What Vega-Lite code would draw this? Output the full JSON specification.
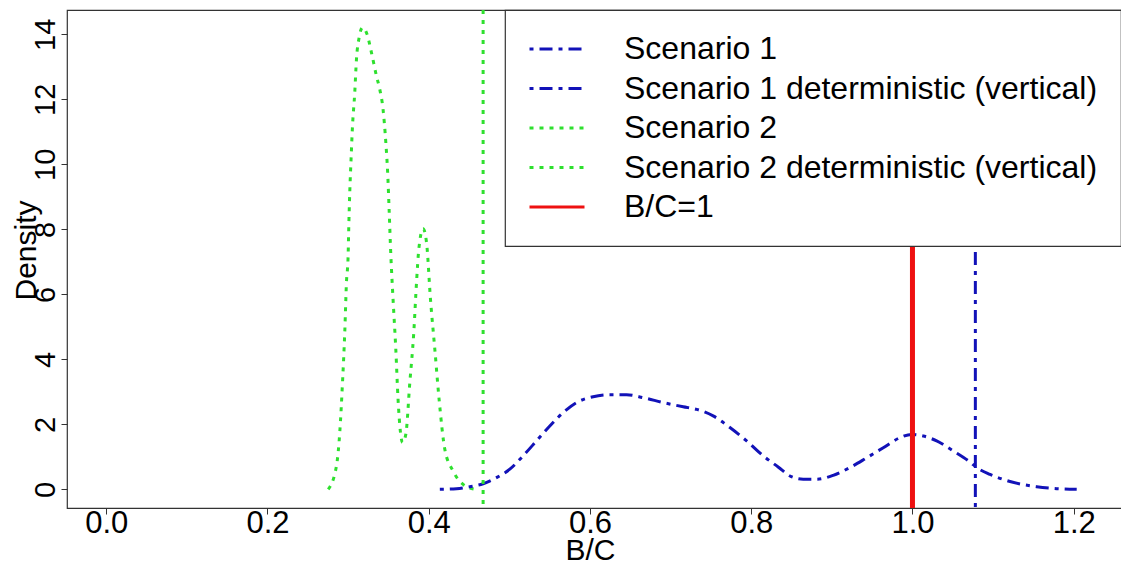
{
  "$schema": "https://vega.github.io/schema/vega-lite/v6.json",
  "width": 1058,
  "height": 498,
  "autosize": {"type": "none"},
  "padding": {"left": 67, "top": 10, "right": 0, "bottom": 55},
  "background": "white",
  "config": {
    "view": {"stroke": "#333333", "strokeWidth": 1.2},
    "font": "Liberation Sans",
    "axis": {"grid": false, "domain": false, "tickColor": "#333333", "tickWidth": 1, "labelColor": "black", "titleColor": "black", "labelFont": "Liberation Sans", "titleFont": "Liberation Sans", "titleFontWeight": "normal"},
    "legend": {
      "orient": "none", "legendX": 438, "legendY": 0, "title": null,
      "symbolType": "stroke", "symbolSize": 3025, "symbolStrokeWidth": 3,
      "labelFont": "Liberation Sans", "labelFontSize": 32, "labelColor": "black", "labelOffset": 38, "labelLimit": 0,
      "clipHeight": 32, "rowPadding": 7.5, "padding": 23, "strokeColor": "#333333", "strokeWidth": 1.2, "fillColor": "white"
    }
  },
  "datasets": {
    "curves": [
      {"bc": 0.2754, "density": 0.0, "series": "Scenario 2"},
      {"bc": 0.2856, "density": 0.72, "series": "Scenario 2"},
      {"bc": 0.2897, "density": 1.75, "series": "Scenario 2"},
      {"bc": 0.2931, "density": 3.29, "series": "Scenario 2"},
      {"bc": 0.2959, "density": 4.83, "series": "Scenario 2"},
      {"bc": 0.2980, "density": 6.37, "series": "Scenario 2"},
      {"bc": 0.3000, "density": 7.14, "series": "Scenario 2"},
      {"bc": 0.3009, "density": 8.10, "series": "Scenario 2"},
      {"bc": 0.3021, "density": 9.14, "series": "Scenario 2"},
      {"bc": 0.3037, "density": 10.15, "series": "Scenario 2"},
      {"bc": 0.3055, "density": 11.18, "series": "Scenario 2"},
      {"bc": 0.3083, "density": 12.21, "series": "Scenario 2"},
      {"bc": 0.3104, "density": 13.23, "series": "Scenario 2"},
      {"bc": 0.3137, "density": 13.90, "series": "Scenario 2"},
      {"bc": 0.3179, "density": 14.21, "series": "Scenario 2"},
      {"bc": 0.3236, "density": 14.0, "series": "Scenario 2"},
      {"bc": 0.3290, "density": 13.44, "series": "Scenario 2"},
      {"bc": 0.3352, "density": 12.72, "series": "Scenario 2"},
      {"bc": 0.3393, "density": 12.31, "series": "Scenario 2"},
      {"bc": 0.3434, "density": 11.69, "series": "Scenario 2"},
      {"bc": 0.3468, "density": 10.68, "series": "Scenario 2"},
      {"bc": 0.3493, "density": 9.64, "series": "Scenario 2"},
      {"bc": 0.3509, "density": 8.62, "series": "Scenario 2"},
      {"bc": 0.3530, "density": 7.23, "series": "Scenario 2"},
      {"bc": 0.3558, "density": 5.85, "series": "Scenario 2"},
      {"bc": 0.3592, "density": 4.31, "series": "Scenario 2"},
      {"bc": 0.3620, "density": 2.77, "series": "Scenario 2"},
      {"bc": 0.3650, "density": 1.75, "series": "Scenario 2"},
      {"bc": 0.3675, "density": 1.44, "series": "Scenario 2"},
      {"bc": 0.3716, "density": 1.69, "series": "Scenario 2"},
      {"bc": 0.3766, "density": 3.29, "series": "Scenario 2"},
      {"bc": 0.3815, "density": 4.83, "series": "Scenario 2"},
      {"bc": 0.3849, "density": 6.37, "series": "Scenario 2"},
      {"bc": 0.3877, "density": 7.38, "series": "Scenario 2"},
      {"bc": 0.3931, "density": 8.02, "series": "Scenario 2"},
      {"bc": 0.3973, "density": 7.60, "series": "Scenario 2"},
      {"bc": 0.4022, "density": 5.85, "series": "Scenario 2"},
      {"bc": 0.4076, "density": 4.31, "series": "Scenario 2"},
      {"bc": 0.4129, "density": 2.77, "series": "Scenario 2"},
      {"bc": 0.4200, "density": 1.23, "series": "Scenario 2"},
      {"bc": 0.4303, "density": 0.56, "series": "Scenario 2"},
      {"bc": 0.4427, "density": 0.15, "series": "Scenario 2"},
      {"bc": 0.4572, "density": 0.0, "series": "Scenario 2"},
      {"bc": 0.4138, "density": 0.0, "series": "Scenario 1"},
      {"bc": 0.4345, "density": 0.02, "series": "Scenario 1"},
      {"bc": 0.4510, "density": 0.08, "series": "Scenario 1"},
      {"bc": 0.4675, "density": 0.17, "series": "Scenario 1"},
      {"bc": 0.4841, "density": 0.36, "series": "Scenario 1"},
      {"bc": 0.5006, "density": 0.62, "series": "Scenario 1"},
      {"bc": 0.5171, "density": 1.03, "series": "Scenario 1"},
      {"bc": 0.5337, "density": 1.49, "series": "Scenario 1"},
      {"bc": 0.5502, "density": 1.95, "series": "Scenario 1"},
      {"bc": 0.5668, "density": 2.36, "series": "Scenario 1"},
      {"bc": 0.5834, "density": 2.67, "series": "Scenario 1"},
      {"bc": 0.6040, "density": 2.85, "series": "Scenario 1"},
      {"bc": 0.6247, "density": 2.91, "series": "Scenario 1"},
      {"bc": 0.6454, "density": 2.91, "series": "Scenario 1"},
      {"bc": 0.6660, "density": 2.82, "series": "Scenario 1"},
      {"bc": 0.6908, "density": 2.67, "series": "Scenario 1"},
      {"bc": 0.7156, "density": 2.54, "series": "Scenario 1"},
      {"bc": 0.7323, "density": 2.46, "series": "Scenario 1"},
      {"bc": 0.7528, "density": 2.26, "series": "Scenario 1"},
      {"bc": 0.7736, "density": 1.90, "series": "Scenario 1"},
      {"bc": 0.7943, "density": 1.49, "series": "Scenario 1"},
      {"bc": 0.8149, "density": 1.03, "series": "Scenario 1"},
      {"bc": 0.8338, "density": 0.68, "series": "Scenario 1"},
      {"bc": 0.8480, "density": 0.41, "series": "Scenario 1"},
      {"bc": 0.8645, "density": 0.31, "series": "Scenario 1"},
      {"bc": 0.8811, "density": 0.31, "series": "Scenario 1"},
      {"bc": 0.9017, "density": 0.43, "series": "Scenario 1"},
      {"bc": 0.9225, "density": 0.67, "series": "Scenario 1"},
      {"bc": 0.9432, "density": 0.97, "series": "Scenario 1"},
      {"bc": 0.9638, "density": 1.28, "series": "Scenario 1"},
      {"bc": 0.9845, "density": 1.59, "series": "Scenario 1"},
      {"bc": 0.9990, "density": 1.69, "series": "Scenario 1"},
      {"bc": 1.0134, "density": 1.64, "series": "Scenario 1"},
      {"bc": 1.0300, "density": 1.49, "series": "Scenario 1"},
      {"bc": 1.0506, "density": 1.18, "series": "Scenario 1"},
      {"bc": 1.0713, "density": 0.84, "series": "Scenario 1"},
      {"bc": 1.0797, "density": 0.67, "series": "Scenario 1"},
      {"bc": 1.0962, "density": 0.46, "series": "Scenario 1"},
      {"bc": 1.1210, "density": 0.24, "series": "Scenario 1"},
      {"bc": 1.1541, "density": 0.08, "series": "Scenario 1"},
      {"bc": 1.1789, "density": 0.02, "series": "Scenario 1"},
      {"bc": 1.2037, "density": 0.0, "series": "Scenario 1"}
    ],
    "vlines": [
      {"bc": 1.078, "series": "Scenario 1 deterministic (vertical)"},
      {"bc": 0.4675, "series": "Scenario 2 deterministic (vertical)"},
      {"bc": 1.0, "series": "B/C=1"}
    ]
  },
  "encoding": {
    "x": {
      "field": "bc", "type": "quantitative",
      "scale": {"domain": [-0.0486, 1.2636], "nice": false, "zero": false},
      "axis": {
        "values": [0, 0.2, 0.4, 0.6, 0.8, 1.0, 1.2], "format": ".1f",
        "labelFontSize": 31, "labelBaseline": "alphabetic", "labelPadding": 18, "tickSize": 6,
        "labelFlush": false, "labelOverlap": false,
        "title": "B/C", "titleFontSize": 30, "titleX": 523, "titleY": 51, "titleAlign": "center", "titleBaseline": "alphabetic"
      }
    },
    "color": {
      "field": "series", "type": "nominal",
      "scale": {
        "domain": ["Scenario 1", "Scenario 1 deterministic (vertical)", "Scenario 2", "Scenario 2 deterministic (vertical)", "B/C=1"],
        "range": ["#1212b8", "#1212b8", "#2ee02e", "#2ee02e", "#ee1111"]
      },
      "legend": {"title": null}
    },
    "strokeDash": {
      "field": "series", "type": "nominal",
      "scale": {
        "domain": ["Scenario 1", "Scenario 1 deterministic (vertical)", "Scenario 2", "Scenario 2 deterministic (vertical)", "B/C=1"],
        "range": [[4, 6, 13, 6], [4, 6, 13, 6], [4, 6], [4, 6], [1, 0]]
      },
      "legend": {"title": null}
    }
  },
  "layer": [
    {
      "data": {"name": "curves"},
      "mark": {"type": "line", "strokeWidth": 3, "clip": true, "interpolate": "monotone"},
      "encoding": {
        "y": {
          "field": "density", "type": "quantitative",
          "scale": {"domain": [-0.575, 14.75], "nice": false, "zero": false},
          "axis": {
            "values": [0, 2, 4, 6, 8, 10, 12, 14],
            "labelFontSize": 29, "labelAngle": 270, "labelAlign": "center", "labelBaseline": "alphabetic",
            "labelPadding": 7, "tickSize": 6, "labelFlush": false, "labelOverlap": false,
            "title": "Density", "titleFontSize": 30, "titleAngle": 270, "titleBaseline": "alphabetic",
            "titleAlign": "center", "titleX": -32, "titleY": 240
          }
        }
      }
    },
    {
      "data": {"name": "vlines"},
      "mark": {"type": "rule", "clip": true},
      "encoding": {
        "strokeWidth": {"condition": {"test": "datum.series === 'B/C=1'", "value": 5}, "value": 3}
      }
    }
  ]
}
